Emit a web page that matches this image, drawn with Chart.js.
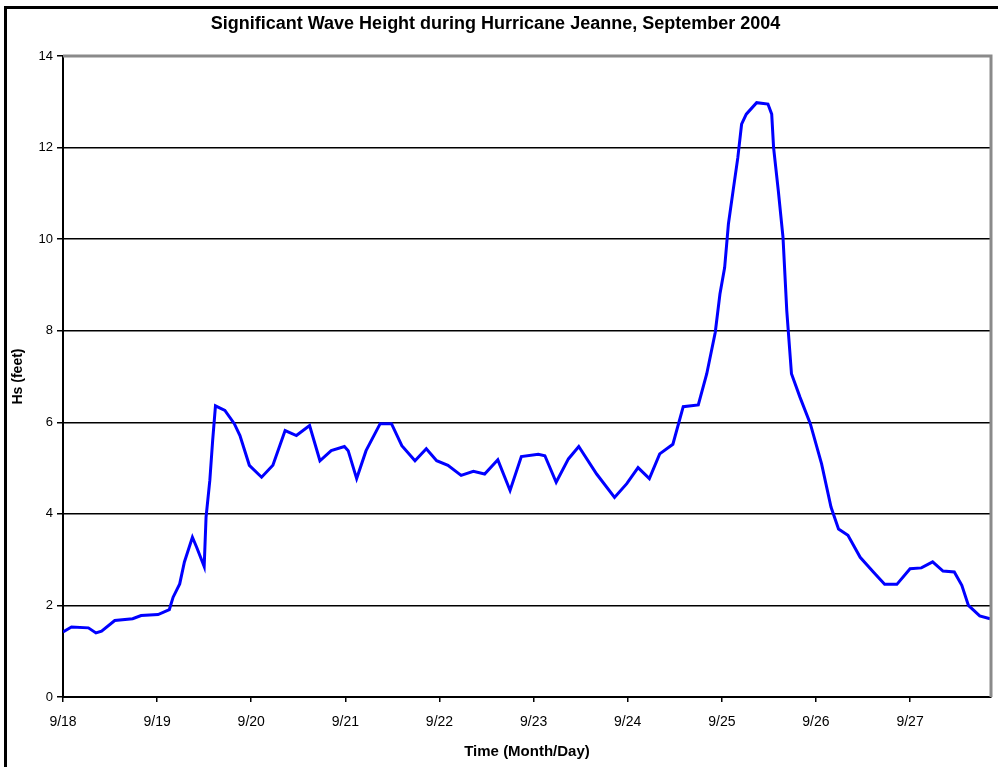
<!DOCTYPE html>
<html>
<head>
<meta charset="utf-8">
<title>Significant Wave Height during Hurricane Jeanne</title>
<script src="https://cdn.jsdelivr.net/npm/chart.js@4/dist/chart.umd.min.js"></script>
<style>
  html, body { margin: 0; padding: 0; background: #fff; }
  #wrap { width: 998px; height: 767px; }
</style>
</head>
<body>
<div id="wrap"><canvas id="waveChart" width="998" height="767"></canvas></div>
<script>
// x = days since 9/18 00:00
const days = [
  0.00, 0.09, 0.27, 0.35, 0.41, 0.55, 0.74, 0.83, 1.01, 1.13,
  1.17, 1.24, 1.29, 1.375, 1.42, 1.50, 1.52, 1.56, 1.59, 1.62,
  1.72, 1.82, 1.88, 1.98, 2.11, 2.23, 2.36, 2.48, 2.62, 2.73,
  2.85, 2.99, 3.03, 3.12, 3.22, 3.37, 3.49, 3.60, 3.74, 3.86,
  3.97, 4.09, 4.23, 4.36, 4.48, 4.62, 4.75, 4.87, 5.05, 5.12,
  5.24, 5.37, 5.48, 5.67, 5.86, 5.99, 6.11, 6.23, 6.34, 6.48,
  6.59, 6.75, 6.84, 6.93, 6.98, 7.03, 7.07, 7.12, 7.17, 7.21,
  7.26, 7.37, 7.49, 7.53, 7.55, 7.60, 7.65, 7.69, 7.74, 7.83,
  7.94, 8.06, 8.16, 8.24, 8.34, 8.47, 8.61, 8.73, 8.86, 9.00,
  9.12, 9.24, 9.35, 9.47, 9.55, 9.62, 9.74, 9.85
];
const hs = [
  1.42, 1.53, 1.51, 1.40, 1.44, 1.67, 1.71, 1.78, 1.80, 1.91,
  2.18, 2.47, 2.95, 3.49, 3.27, 2.85, 3.93, 4.73, 5.60, 6.36,
  6.26, 5.97, 5.71, 5.06, 4.80, 5.06, 5.82, 5.71, 5.93, 5.16,
  5.38, 5.47, 5.38, 4.77, 5.38, 5.97, 5.97, 5.49, 5.16, 5.42,
  5.16, 5.06, 4.84, 4.93, 4.87, 5.18, 4.51, 5.25, 5.30, 5.27,
  4.69, 5.20, 5.47, 4.87, 4.36, 4.66, 5.01, 4.77, 5.31, 5.52,
  6.34, 6.38, 7.06, 7.96, 8.80, 9.38, 10.33, 11.06, 11.78, 12.51,
  12.73, 12.98, 12.95, 12.73, 12.00, 11.06, 10.04, 8.44, 7.06, 6.55,
  5.97, 5.09, 4.15, 3.67, 3.53, 3.05, 2.73, 2.46, 2.46, 2.80,
  2.82, 2.95, 2.75, 2.73, 2.44, 2.00, 1.77, 1.71
];
const tickLabels = ['9/18', '9/19', '9/20', '9/21', '9/22', '9/23', '9/24', '9/25', '9/26', '9/27'];
const yTicks = [0, 2, 4, 6, 8, 10, 12, 14];

const points = days.map((d, i) => ({ x: d, y: hs[i] }));

// black outer frame (left/top) and grey plot border (top/right)
const framePlugin = {
    id: 'frames',
    beforeDraw(chart) {
        const ctx = chart.ctx;
        ctx.save();
        ctx.fillStyle = '#fff';
        ctx.fillRect(0, 0, chart.width, chart.height);
        ctx.fillStyle = '#000';
        ctx.fillRect(4, 6, 3, chart.height - 6);
        ctx.fillRect(4, 6, chart.width - 4, 3);
        ctx.restore();
    },
    afterDraw(chart) {
        const a = chart.chartArea;
        const ctx = chart.ctx;
        ctx.save();
        ctx.strokeStyle = '#8a8a8a';
        ctx.lineWidth = 3;
        ctx.beginPath();
        ctx.moveTo(a.left, a.top);
        ctx.lineTo(a.right, a.top);
        ctx.lineTo(a.right, a.bottom);
        ctx.stroke();
        ctx.restore();
    }
};

const font = 'Arial, "Liberation Sans", sans-serif';

new Chart(document.getElementById('waveChart').getContext('2d'), {
    type: 'line',
    data: {
        datasets: [{
            label: 'Hs',
            data: points,
            borderColor: '#0000ff',
            borderWidth: 3,
            pointRadius: 0,
            tension: 0,
            fill: false
        }]
    },
    options: {
        responsive: false,
        animation: false,
        devicePixelRatio: 1,
        layout: { padding: { left: 0, right: 7, top: 0, bottom: 0 } },
        plugins: {
            legend: { display: false },
            tooltip: { enabled: false },
            title: {
                display: true,
                text: 'Significant Wave Height during Hurricane Jeanne, September 2004',
                color: '#000',
                font: { family: font, size: 18, weight: 'bold' },
                padding: { top: 13, bottom: 21.4 }
            }
        },
        scales: {
            x: {
                type: 'linear',
                min: 0,
                max: 9.86,
                afterFit: s => { s.height = 70; },
                border: { color: '#000', width: 2 },
                grid: { drawOnChartArea: false, drawTicks: true, tickLength: 5, color: '#000', lineWidth: 1.5 },
                ticks: {
                    stepSize: 1,
                    includeBounds: false,
                    autoSkip: false,
                    maxRotation: 0,
                    color: '#000',
                    padding: 12,
                    font: { family: font, size: 14 },
                    callback: v => tickLabels[v] !== undefined && Number.isInteger(v) ? tickLabels[v] : ''
                },
                title: {
                    display: true,
                    text: 'Time (Month/Day)',
                    color: '#000',
                    font: { family: font, size: 15, weight: 'bold' },
                    padding: { top: 6, bottom: 6 }
                }
            },
            y: {
                min: yTicks[0],
                max: yTicks[yTicks.length - 1],
                afterFit: s => { s.width = 63; },
                afterBuildTicks: s => { s.ticks = yTicks.map(v => ({ value: v })); },
                border: { color: '#000', width: 2 },
                grid: { color: '#000', lineWidth: 1.5, drawTicks: true, tickLength: 6 },
                ticks: {
                    color: '#000',
                    padding: 4,
                    font: { family: font, size: 13 }
                },
                title: {
                    display: true,
                    text: 'Hs (feet)',
                    color: '#000',
                    font: { family: font, size: 14, weight: 'bold' },
                    padding: { top: 10, bottom: 0 }
                }
            }
        }
    },
    plugins: [framePlugin]
});
</script>
</body>
</html>
